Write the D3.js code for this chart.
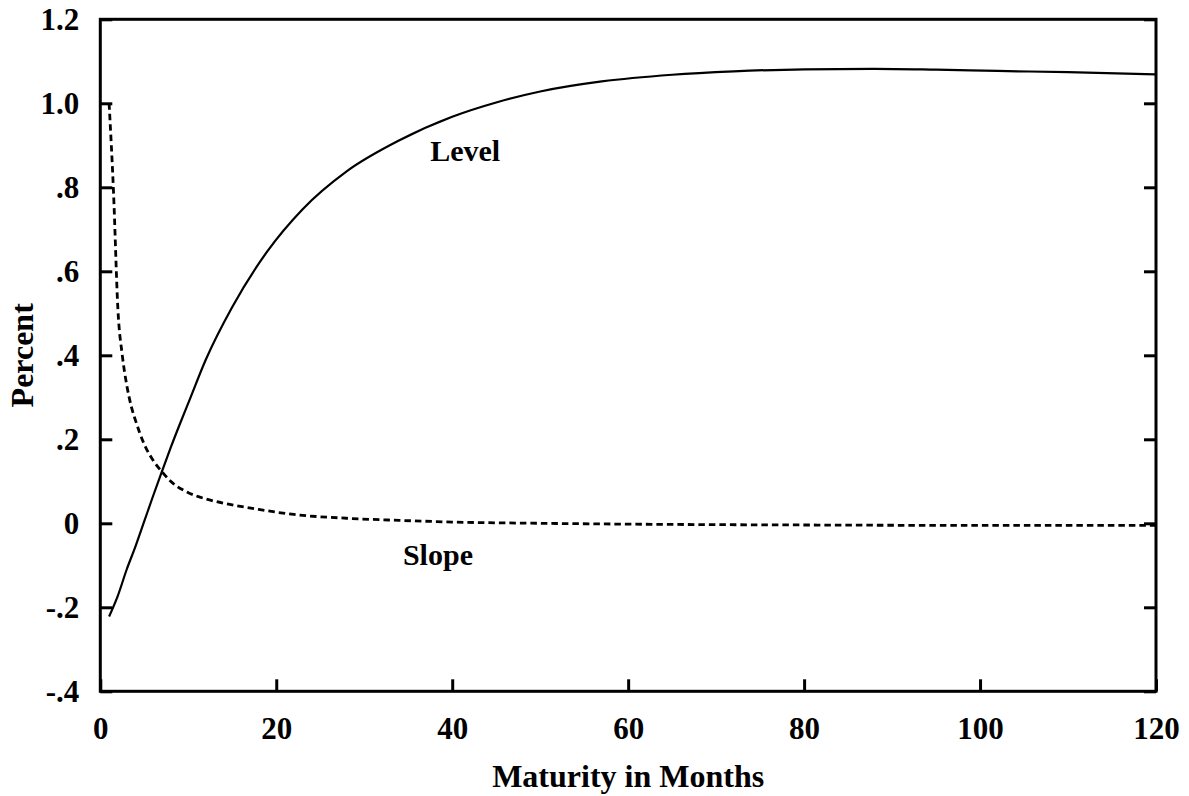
<!DOCTYPE html>
<html>
<head>
<meta charset="utf-8">
<script src="https://cdn.jsdelivr.net/npm/d3@7"></script>
<style>
  body { margin: 0; background: #fff; }
  svg text { font-family: "Liberation Serif", "Times New Roman", serif; font-weight: bold; fill: #000; }
</style>
</head>
<body>
<div id="chart"></div>
<script>
// Maturities (months) and loadings
const levelMonths = [1, 2, 3, 4, 5, 6, 7, 8, 9, 10, 12, 15, 19, 23, 28, 34, 40, 45, 50, 57, 65, 72, 80, 88, 95, 102, 110, 120];
const levelValues = [-0.222, -0.172, -0.11, -0.055, 0.005, 0.065, 0.123, 0.18, 0.234, 0.286, 0.39, 0.515, 0.648, 0.748, 0.838, 0.912, 0.968, 1.002, 1.028, 1.052, 1.068, 1.076, 1.081, 1.082, 1.080, 1.077, 1.074, 1.069];

const slopeMonths = [1, 1.5, 2, 2.5, 3, 3.5, 4, 5, 6, 7, 8, 10, 12, 15, 18, 22, 28, 34, 40, 50, 60, 80, 100, 120];
const slopeValues = [1.0, 0.79, 0.51, 0.40, 0.33, 0.28, 0.245, 0.188, 0.15, 0.123, 0.10, 0.073, 0.058, 0.044, 0.033, 0.021, 0.012, 0.007, 0.003, 0.0, -0.002, -0.004, -0.005, -0.005];

const xTicks = [0, 20, 40, 60, 80, 100, 120];
const yTicks = [1.2, 1.0, 0.8, 0.6, 0.4, 0.2, 0, -0.2, -0.4];
const yTickLabels = ["1.2", "1.0", ".8", ".6", ".4", ".2", "0", "-.2", "-.4"];

const width = 1189, height = 796;
const margin = { top: 19.3, right: 33, bottom: 104.7, left: 100.3 };
const innerW = width - margin.left - margin.right;
const innerH = height - margin.top - margin.bottom;

const svg = d3.select("#chart").append("svg")
    .attr("width", width)
    .attr("height", height);

const g = svg.append("g")
    .attr("transform", "translate(" + margin.left + "," + margin.top + ")");

const x = d3.scaleLinear().domain([0, 120]).range([0, innerW]);
const y = d3.scaleLinear().domain([-0.4, 1.2]).range([innerH, 0]);

// Axes with inward ticks
const yAxis = d3.axisLeft(y)
    .tickValues(yTicks)
    .tickSize(-12)
    .tickPadding(21)
    .tickFormat(function(d, i) { return yTickLabels[i]; });

const yAxisRight = d3.axisRight(y)
    .tickValues(yTicks)
    .tickSize(-12)
    .tickFormat("");

const xAxis = d3.axisBottom(x)
    .tickValues(xTicks)
    .tickSize(-12)
    .tickPadding(26)
    .tickFormat(d3.format("d"));

function styleAxis(sel) {
  sel.select(".domain").remove();
  sel.selectAll(".tick line").attr("stroke", "#000").attr("stroke-width", 3);
  sel.selectAll(".tick text").style("font-size", "31px");
}

g.append("g").call(yAxis).call(styleAxis);
g.append("g").attr("transform", "translate(" + innerW + ",0)").call(yAxisRight).call(styleAxis);
g.append("g").attr("transform", "translate(0," + innerH + ")").call(xAxis).call(styleAxis);

// Frame
g.append("rect")
    .attr("x", 0)
    .attr("y", 0)
    .attr("width", innerW)
    .attr("height", innerH)
    .attr("fill", "none")
    .attr("stroke", "#000")
    .attr("stroke-width", 3);

// Lines
const line = d3.line()
    .x(function(d) { return x(d[0]); })
    .y(function(d) { return y(d[1]); })
    .curve(d3.curveMonotoneX);

g.append("path")
    .datum(levelMonths.map(function(m, i) { return [m, levelValues[i]]; }))
    .attr("d", line)
    .attr("fill", "none")
    .attr("stroke", "#000")
    .attr("stroke-width", 2.2);

g.append("path")
    .datum(slopeMonths.map(function(m, i) { return [m, slopeValues[i]]; }))
    .attr("d", line)
    .attr("fill", "none")
    .attr("stroke", "#000")
    .attr("stroke-width", 2.8)
    .attr("stroke-dasharray", "6.5,4");

// Curve labels
g.append("text")
    .attr("x", x(37.5))
    .attr("y", y(0.862))
    .style("font-size", "30px")
    .text("Level");

g.append("text")
    .attr("x", x(34.4))
    .attr("y", y(-0.1))
    .style("font-size", "30px")
    .text("Slope");

// Axis titles
svg.append("text")
    .attr("x", margin.left + innerW / 2)
    .attr("y", 787)
    .attr("text-anchor", "middle")
    .style("font-size", "32px")
    .text("Maturity in Months");

svg.append("text")
    .attr("transform", "translate(33," + (margin.top + innerH / 2) + ") rotate(-90)")
    .attr("text-anchor", "middle")
    .style("font-size", "32px")
    .text("Percent");
</script>
</body>
</html>
